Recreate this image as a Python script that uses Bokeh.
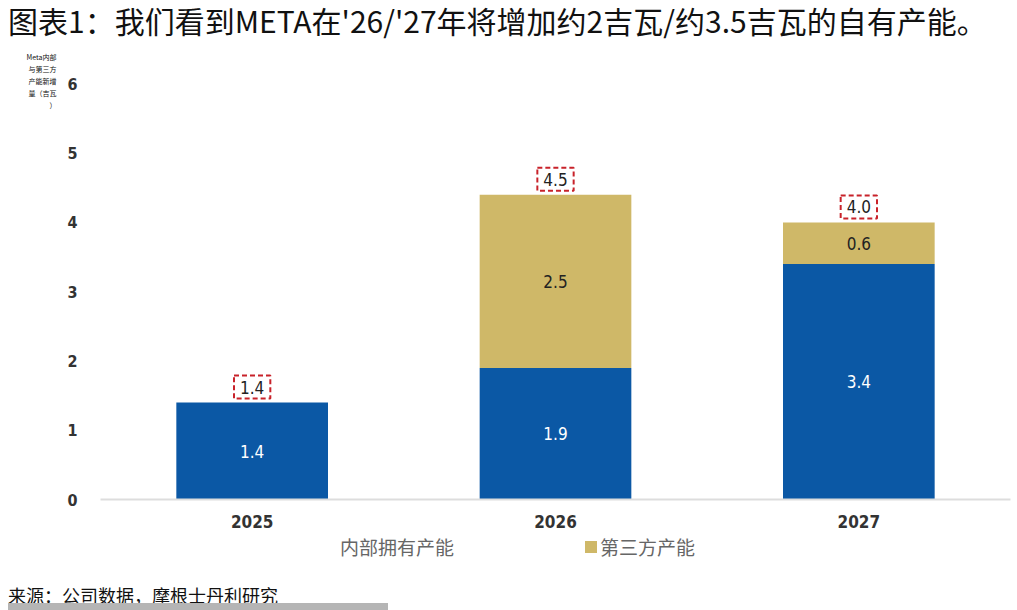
from bokeh.plotting import figure
from bokeh.layouts import column
from bokeh.models import ColumnDataSource, Label, Range1d, FactorRange, FixedTicker, Div
from bokeh.core.properties import value
from bokeh.embed import file_html
from bokeh.resources import INLINE

# data (GW)
years = ["2025", "2026", "2027"]
in_house = [1.4, 1.9, 3.4]
third_party = [0.0, 2.5, 0.6]
total_labels = ["1.4", "4.5", "4.0"]
y_ticks = [0, 1, 2, 3, 4, 5, 6]

title_text = "图表1：我们看到META在'26/'27年将增加约2吉瓦/约3.5吉瓦的自有产能。"
y_label = "Meta内部\n与第三方\n产能新增\n量（吉瓦\n）"
series_names = ["内部拥有产能", "第三方产能"]
source_text = "来源：公司数据，摩根士丹利研究"

BLUE = "#0B58A5"
GOLD = "#CFB868"
RED = "#C8222A"
CJK = "Noto Sans CJK SC"
NUM = "Liberation Sans Narrow, DejaVu Sans Condensed, Roboto"

W = 1017

src = ColumnDataSource(dict(
    year=years,
    in_house=in_house,
    third_party=third_party,
    mid_in=[v / 2 for v in in_house],
    lab_in=["%.1f" % v for v in in_house],
))
gold_idx = [i for i, v in enumerate(third_party) if v > 0]
gold_src = ColumnDataSource(dict(
    year=[years[i] for i in gold_idx],
    mid=[in_house[i] + third_party[i] / 2 for i in gold_idx],
    lab=["%.1f" % third_party[i] for i in gold_idx],
))

p = figure(x_range=FactorRange(*years), y_range=Range1d(0, 6.05),
           width=W, height=490, output_backend="svg", toolbar_location=None,
           min_border_left=100, min_border_right=7, min_border_top=40, min_border_bottom=30,
           margin=(0, 0, 0, 0))

p.vbar_stack(["in_house", "third_party"], x="year", width=0.5, color=[BLUE, GOLD],
             line_color=None, source=src)

# labels inside the segments
p.text(x="year", y="mid_in", text="lab_in", source=src, text_color="white",
       text_align="center", text_baseline="middle", text_font=value(NUM), text_font_size="17px")
p.text(x="year", y="mid", text="lab", source=gold_src, text_color="#222222",
       text_align="center", text_baseline="middle", text_font=value(NUM), text_font_size="17px")

# totals in red dashed boxes
for i, t in enumerate(total_labels):
    p.add_layout(Label(x=i + 0.5, y=in_house[i] + third_party[i], y_offset=4, text=t,
                       text_align="center", text_baseline="bottom", text_font=NUM,
                       text_font_size="17px", text_color="#222222",
                       border_line_color=RED, border_line_dash="5 3", border_line_width=2,
                       padding=(6, 5)))

# axes
p.xgrid.grid_line_color = None
p.ygrid.grid_line_color = None
p.outline_line_color = None

p.yaxis.ticker = FixedTicker(ticks=y_ticks)
p.yaxis.axis_line_color = None
p.yaxis.major_tick_line_color = None
p.yaxis.minor_tick_line_color = None
p.yaxis.major_label_standoff = 17
p.yaxis.major_label_text_font = NUM
p.yaxis.major_label_text_font_size = "16px"
p.yaxis.major_label_text_font_style = "bold"
p.yaxis.major_label_text_color = "#333333"
p.yaxis.axis_label = y_label
p.yaxis.axis_label_orientation = "horizontal"
p.yaxis.axis_label_text_font = CJK
p.yaxis.axis_label_text_font_size = "7px"
p.yaxis.axis_label_text_font_style = "normal"
p.yaxis.axis_label_text_color = "#111111"
p.yaxis.axis_label_standoff = 8
p.yaxis.axis_label_align = "end"

p.xaxis.axis_line_color = "#DDDDDD"
p.xaxis.axis_line_width = 2
p.xaxis.major_tick_line_color = None
p.xaxis.minor_tick_line_color = None
p.xaxis.major_label_standoff = 9
p.xaxis.major_label_text_font = NUM
p.xaxis.major_label_text_font_size = "17px"
p.xaxis.major_label_text_font_style = "bold"
p.xaxis.major_label_text_color = "#333333"

# texts outside the plot area
font = "font-family:'Noto Sans CJK SC',sans-serif;white-space:nowrap;position:absolute;"
head = Div(width=W, height=40, margin=(0, 0, 0, 0), text=(
    f'<div style="position:relative;width:{W}px;height:40px;">'
    f'<span style="{font}left:8px;top:0px;font-size:30px;line-height:40px;color:#111;">'
    f'{title_text}</span></div>'))

foot = Div(width=W, height=80, margin=(0, 0, 0, 0), text=(
    f'<div style="position:relative;width:{W}px;height:80px;">'
    f'<span style="{font}left:340px;top:5px;font-size:19px;line-height:24px;color:#666;">'
    f'{series_names[0]}</span>'
    f'<span style="position:absolute;left:585px;top:11px;width:12px;height:12px;'
    f'background:{GOLD};"></span>'
    f'<span style="{font}left:600px;top:5px;font-size:19px;line-height:24px;color:#666;">'
    f'{series_names[1]}</span>'
    f'<span style="{font}left:8px;top:54px;font-size:18px;line-height:22px;color:#111;">'
    f'{source_text}</span>'
    f'<span style="position:absolute;left:8px;top:73px;width:380px;height:7px;'
    f'background:#B5B5B5;"></span>'
    f'</div>'))

layout = column(head, p, foot, spacing=0)

open("out.html", "w").write(file_html(layout, INLINE))
